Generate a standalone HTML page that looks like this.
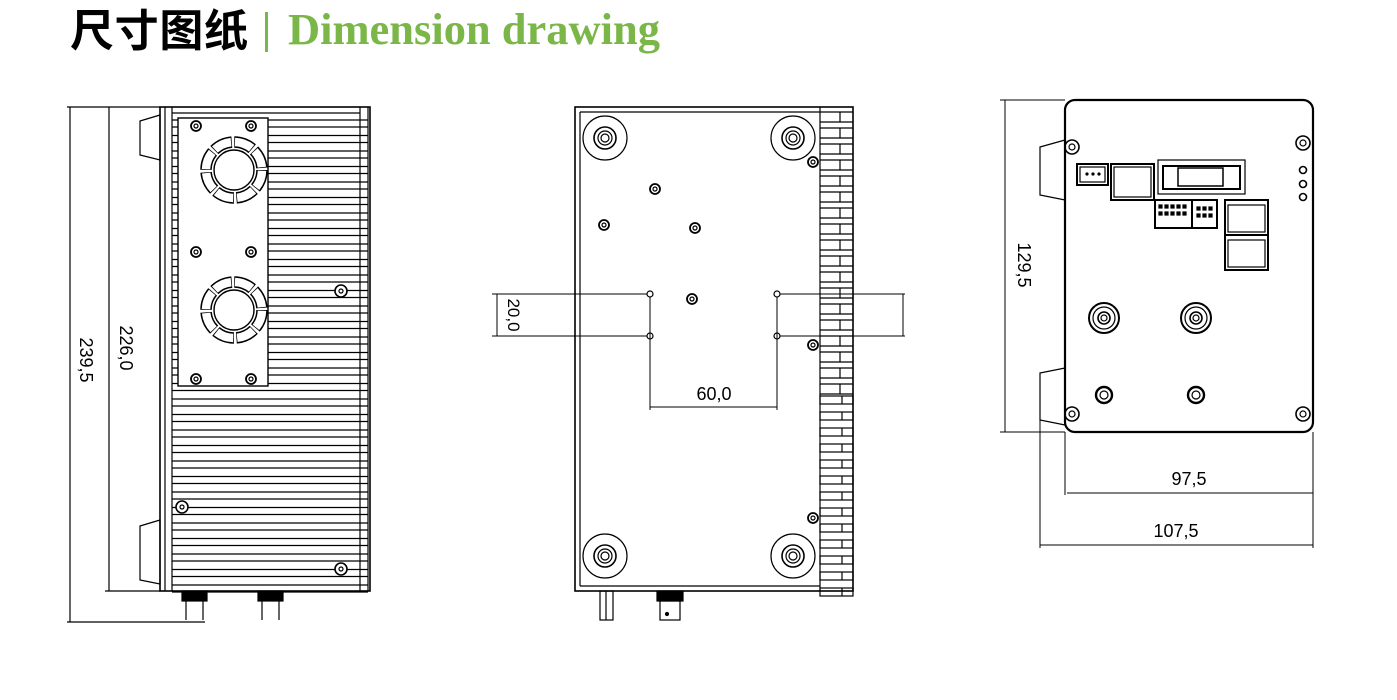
<!DOCTYPE html>
<html><head><meta charset="utf-8"><style>
body{margin:0;background:#fff;width:1397px;height:700px;overflow:hidden}
svg{position:absolute;left:0;top:0}
</style></head><body>
<svg id="s" width="1397" height="700" viewBox="0 0 1397 700" xmlns="http://www.w3.org/2000/svg" font-family="'Liberation Sans', sans-serif">
<text x="70" y="46" font-family="'Liberation Sans','Noto Sans CJK SC',sans-serif" font-weight="bold" font-size="44" textLength="178" fill="#000">尺寸图纸</text>
<rect x="265" y="12" width="3" height="40" fill="#7ab648"/>
<text x="288" y="44" font-family="'Liberation Serif',serif" font-weight="bold" font-size="44" textLength="372" lengthAdjust="spacingAndGlyphs" fill="#7ab648">Dimension drawing</text>
<g id="g" fill="none" stroke="#000" stroke-width="1.2"></g>
</svg>
<script>
var g=document.getElementById('g'),h='';
function L(a,b,c,d,w){h+='<line x1="'+a+'" y1="'+b+'" x2="'+c+'" y2="'+d+'"'+(w?' stroke-width="'+w+'"':'')+'/>';}
function R(x,y,w,ht,f,sw){h+='<rect x="'+x+'" y="'+y+'" width="'+w+'" height="'+ht+'"'+(f?' fill="'+f+'"':'')+(sw?' stroke-width="'+sw+'"':'')+'/>';}
function C(x,y,r,f,sw){h+='<circle cx="'+x+'" cy="'+y+'" r="'+r+'"'+(f?' fill="'+f+'"':'')+(sw?' stroke-width="'+sw+'"':'')+'/>';}
function S(x,y){C(x,y,5,null,1.8);C(x,y,2);}
function T(x,y,t,rot,sz){h+='<text x="'+x+'" y="'+y+'" font-size="'+(sz||18)+'" fill="#000" stroke="none" text-anchor="middle"'+(rot?' transform="rotate('+rot+' '+x+' '+y+')"':'')+'>'+t+'</text>';}
function P(p){h+='<polygon points="'+p+'"/>';}
// LEFT
R(160,107,210,484,null,1.6);L(165,107,165,591);L(172,107,172,591);L(360,107,360,591);L(368,107,368,591);
L(172,113,360,113);
for(var y=120;y<588;y+=15.5){L(172,y,368,y);L(172,y+7,368,y+7);}
R(178,118,90,268,'#fff',1.4);
[170,310].forEach(function(cy){
 h+='<circle cx="234" cy="'+cy+'" r="28" stroke="#000" stroke-width="11.5" stroke-dasharray="19.5 2.5"/>';
 h+='<circle cx="234" cy="'+cy+'" r="28" stroke="#fff" stroke-width="8.5" stroke-dasharray="18 4" stroke-dashoffset="-0.75"/>';
 C(234,cy,20,null,1.4);});
[[196,126],[251,126],[196,252],[251,252],[196,379],[251,379]].forEach(function(p){S(p[0],p[1]);});
C(341,291,6,'#fff',1.6);C(341,291,2);C(182,507,6,'#fff',1.6);C(182,507,2);C(341,569,6,'#fff',1.6);C(341,569,2);
P('160,115 140,121 140,155 160,160');P('160,520 140,526 140,580 160,584');
R(182,591,25,10,'#000');R(258,591,25,10,'#000');L(186,601,186,620);L(203,601,203,620);L(262,601,262,620);L(279,601,279,620);
L(70,107,70,622);L(67,107,160,107);L(67,622,205,622);L(109,107,109,591);L(105,591,160,591);
T(80,360,'239,5',90);T(120,348,'226,0',90);
// MIDDLE
R(575,107,278,484,null,1.6);L(580,112,580,586);L(580,112,820,112);L(580,586,820,586);L(820,107,820,591);
for(var y=112;y<385;y+=16){L(820,y,853,y);L(820,y+10,853,y+10);L(840,y,840,y+10);}
for(var y=396;y<590;y+=16){R(820,y,33,8);L(842,y,842,y+8);}
[[605,138],[793,138],[605,556],[793,556]].forEach(function(p){C(p[0],p[1],22);C(p[0],p[1],11,null,1.6);C(p[0],p[1],7);C(p[0],p[1],4);});
[[655,189],[604,225],[695,228],[692,299],[813,162],[813,345],[813,518]].forEach(function(p){S(p[0],p[1]);});
[[650,294],[650,336],[777,294],[777,336]].forEach(function(p){C(p[0],p[1],3);});
L(492,294,647,294,1);L(492,336,647,336,1);L(780,294,905,294,1);L(780,336,905,336,1);L(497,294,497,336,1);L(903,294,903,336,1);
L(650,297,650,410,1);L(777,297,777,410,1);L(650,407,777,407,1);T(714,400,'60,0');T(508,315,'20,0',90,17);
R(600,591,13,29);L(606,591,606,620);R(657,591,26,10,'#000');R(660,601,20,19);C(667,614,1.5,'#000');
// RIGHT
h+='<rect x="1065" y="100" width="248" height="332" rx="10" stroke-width="2.2"/>';
P('1065,140 1040,147 1040,195 1065,200');P('1065,368 1040,373 1040,420 1065,425');
[[1072,147],[1303,143],[1072,414],[1303,414]].forEach(function(p){C(p[0],p[1],7,null,1.6);C(p[0],p[1],3);});
C(1303,170,3.5,null,1.6);C(1303,184,3.5,null,1.6);C(1303,197,3.5,null,1.6);
R(1077,164,31,21,null,2);R(1080,167,25,15);[1087,1093,1099].forEach(function(x){C(x,174,1,'#000');});
R(1111,164,43,36,null,2);R(1114,167,37,30);
R(1158,160,87,34);R(1163,166,77,23,null,2);R(1178,168,45,18,null,1.5);
R(1155,200,62,28,null,2);L(1192,200,1192,228,2);
for(var i=0;i<5;i++){R(1159+i*6,205,3,3,'#000');R(1159+i*6,212,3,3,'#000');}
for(var i=0;i<3;i++){R(1197+i*6,207,3,3,'#000');R(1197+i*6,214,3,3,'#000');}
R(1225,200,43,70,null,2);L(1225,235,1268,235,2);R(1228,205,37,27);R(1228,240,37,27);
[1104,1196].forEach(function(x){C(x,318,15,null,2);C(x,318,11);C(x,318,6,null,1.6);C(x,318,3);C(x,395,8,null,2.4);C(x,395,4);});
L(1005,100,1005,432,1);L(1000,100,1065,100,1);L(1000,432,1065,432,1);T(1018,265,'129,5',90);
L(1065,432,1065,495,1);L(1313,432,1313,548,1);L(1040,420,1040,548,1);
L(1067,493,1313,493,1);L(1040,545,1313,545,1);T(1189,485,'97,5');T(1176,537,'107,5');
g.innerHTML=h;
</script>
</body></html>
